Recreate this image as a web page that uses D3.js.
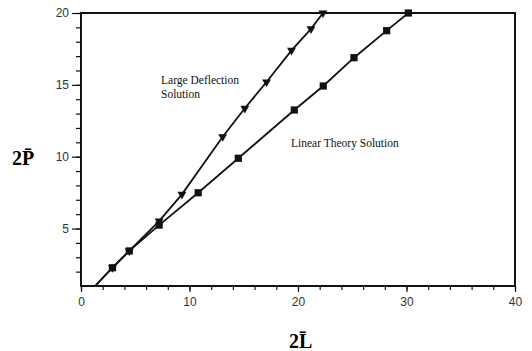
<!DOCTYPE html>
<html>
<head>
<meta charset="utf-8">
<script src="https://cdn.jsdelivr.net/npm/d3@7"></script>
<style>
  body { margin: 0; background: #fff; }
  svg { display: block; }
  .tick text { font-family: "Liberation Sans", Arial, sans-serif; font-size: 12px; fill: #333; }
</style>
</head>
<body>
<svg id="chart" width="532" height="351"></svg>
<script>
// large deflection solution (triangles)
const largeL = [1.3, 2.9, 4.45, 7.2, 9.3, 13.06, 15.1, 17.1, 19.4, 21.2, 22.3];
const largeP = [1.0, 2.27, 3.44, 5.52, 7.38, 11.39, 13.37, 15.2, 17.4, 18.9, 20];
// linear theory solution (squares)
const linearL = [1.3, 2.9, 4.45, 7.2, 10.8, 14.5, 19.66, 22.33, 25.16, 28.17, 30.17];
const linearP = [1.0, 2.27, 3.44, 5.24, 7.49, 9.89, 13.25, 14.92, 16.89, 18.77, 20];

const xTicks = [0, 10, 20, 30, 40];
const yTicks = [5, 10, 15, 20];

const svg = d3.select('#chart');
const mLeft = 81, mRight = 515, mTop = 13, mBottom = 286;

const x = d3.scaleLinear().domain([0, 40]).range([mLeft, mRight]);
const y = d3.scaleLinear().domain([1, 20]).range([mBottom, mTop]);

// minor ticks
svg.append('g')
  .attr('transform', `translate(0,${mBottom})`)
  .call(d3.axisBottom(x).tickValues(d3.range(0, 41, 2)).tickSize(4).tickFormat(''))
  .call(g => g.select('.domain').remove());
svg.append('g')
  .attr('transform', `translate(${mLeft},0)`)
  .call(d3.axisLeft(y).tickValues(d3.range(2, 21, 1)).tickSize(5).tickFormat(''))
  .call(g => g.select('.domain').remove());

// major ticks
const xAxis = svg.append('g')
  .attr('transform', `translate(0,${mBottom})`)
  .call(d3.axisBottom(x).tickValues(xTicks).tickSize(6).tickPadding(5));
const yAxis = svg.append('g')
  .attr('transform', `translate(${mLeft},0)`)
  .call(d3.axisLeft(y).tickValues(yTicks).tickSize(9).tickPadding(3));

svg.selectAll('.tick line').attr('stroke', '#111').attr('stroke-width', 1.2);
xAxis.select('.domain').remove();
yAxis.select('.domain').remove();

// frame
svg.append('rect')
  .attr('x', mLeft).attr('y', mTop)
  .attr('width', mRight - mLeft).attr('height', mBottom - mTop)
  .attr('fill', 'none').attr('stroke', '#111').attr('stroke-width', 2);

// lines
const line = d3.line().x(d => x(d[0])).y(d => y(d[1]));
const largeData = largeL.map((v, i) => [v, largeP[i]]);
const linearData = linearL.map((v, i) => [v, linearP[i]]);

svg.append('path').datum(largeData).attr('d', line)
  .attr('fill', 'none').attr('stroke', '#111').attr('stroke-width', 1.8);
svg.append('path').datum(linearData).attr('d', line)
  .attr('fill', 'none').attr('stroke', '#111').attr('stroke-width', 1.8);

// markers
svg.selectAll('.tri').data(largeData.slice(1)).enter().append('path')
  .attr('d', d3.symbol().type(d3.symbolTriangle).size(34))
  .attr('transform', d => `translate(${x(d[0])},${y(d[1])}) rotate(180)`)
  .attr('fill', '#111');
svg.selectAll('.sq').data(linearData.slice(1)).enter().append('path')
  .attr('d', d3.symbol().type(d3.symbolSquare).size(52))
  .attr('transform', d => `translate(${x(d[0])},${y(d[1])})`)
  .attr('fill', '#111');

// annotations
const serif = '"Liberation Serif", "Times New Roman", serif';
const note = svg.append('text')
  .attr('font-family', serif).attr('font-size', 11.5).attr('fill', '#111');
note.append('tspan').attr('x', 161).attr('y', 84).text('Large Deflection');
note.append('tspan').attr('x', 161).attr('y', 98).text('Solution');
svg.append('text')
  .attr('x', 291).attr('y', 147)
  .attr('font-family', serif).attr('font-size', 11.5).attr('fill', '#111')
  .text('Linear Theory Solution');

// axis titles
svg.append('text')
  .attr('x', 12).attr('y', 165)
  .attr('font-family', serif).attr('font-size', 20).attr('font-weight', 'bold')
  .text('2P\u0304');
svg.append('text')
  .attr('x', 289).attr('y', 348)
  .attr('font-family', serif).attr('font-size', 20).attr('font-weight', 'bold')
  .text('2L\u0304');
</script>
</body>
</html>
